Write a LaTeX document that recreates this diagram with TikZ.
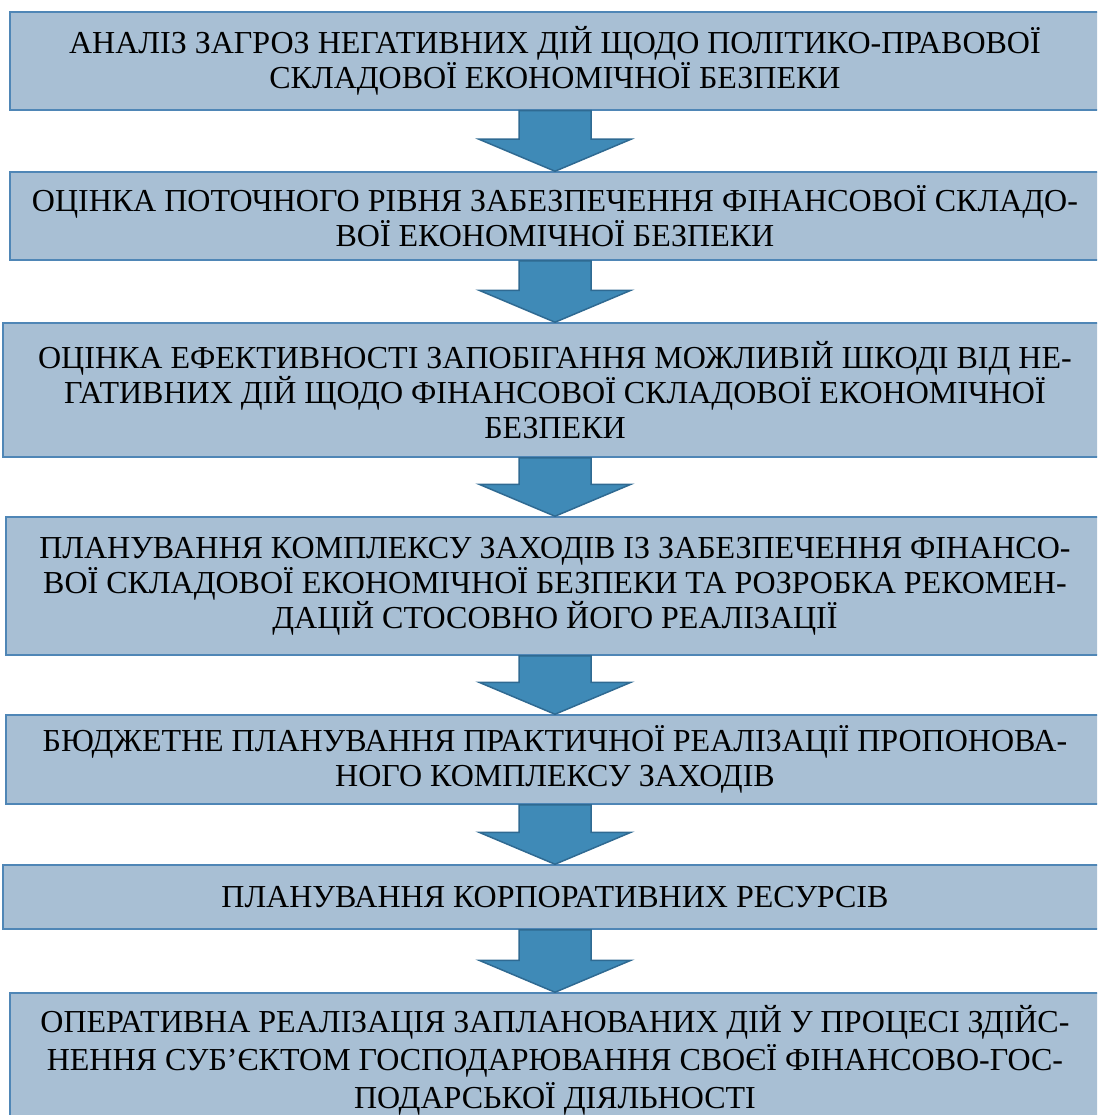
\documentclass[tikz,border=0pt]{standalone}
\usepackage{fontspec}
\setmainfont{Liberation Serif}
\usetikzlibrary{calc}
\definecolor{boxblue}{HTML}{A8BFD4}
\definecolor{boxline}{HTML}{4F86B6}
\definecolor{arrowblue}{HTML}{3F8AB7}
\definecolor{arrowline}{HTML}{2F6A92}

\begin{document}
\begin{tikzpicture}[x=1pt, y=-1pt,
    stage/.style={fill=boxblue, draw=boxline, line width=1.5pt, align=center,
      inner sep=0pt, font=\fontsize{32}{35}\selectfont},
    blockarrow/.style={fill=arrowblue, draw=arrowline, line width=1.5pt, line join=miter}]
        \useasboundingbox (0,0) rectangle (1097,1115);
        \clip (0,0) rectangle (1097,1115);

        % Stages
        \node[stage, minimum width=1090pt, minimum height=98pt] (b1) at (555,61)
          {АНАЛІЗ ЗАГРОЗ НЕГАТИВНИХ ДІЙ ЩОДО ПОЛІТИКО-ПРАВОВОЇ\\СКЛАДОВОЇ ЕКОНОМІЧНОЇ БЕЗПЕКИ};
        \node[stage, minimum width=1090pt, minimum height=88pt] (b2) at (555,216)
          {ОЦІНКА ПОТОЧНОГО РІВНЯ ЗАБЕЗПЕЧЕННЯ ФІНАНСОВОЇ СКЛАДО-\\ВОЇ ЕКОНОМІЧНОЇ БЕЗПЕКИ};
        \node[stage, minimum width=1104pt, minimum height=134pt] (b3) at (555,390)
          {ОЦІНКА ЕФЕКТИВНОСТІ ЗАПОБІГАННЯ МОЖЛИВІЙ ШКОДІ ВІД НЕ-\\ГАТИВНИХ ДІЙ ЩОДО ФІНАНСОВОЇ СКЛАДОВОЇ ЕКОНОМІЧНОЇ\\БЕЗПЕКИ};
        \node[stage, minimum width=1098pt, minimum height=138pt] (b4) at (555,586)
          {ПЛАНУВАННЯ КОМПЛЕКСУ ЗАХОДІВ ІЗ ЗАБЕЗПЕЧЕННЯ ФІНАНСО-\\ВОЇ СКЛАДОВОЇ ЕКОНОМІЧНОЇ БЕЗПЕКИ ТА РОЗРОБКА РЕКОМЕН-\\ДАЦІЙ СТОСОВНО ЙОГО РЕАЛІЗАЦІЇ};
        \node[stage, minimum width=1098pt, minimum height=89pt] (b5) at (555,759.5)
          {БЮДЖЕТНЕ ПЛАНУВАННЯ ПРАКТИЧНОЇ РЕАЛІЗАЦІЇ ПРОПОНОВА-\\НОГО КОМПЛЕКСУ ЗАХОДІВ};
        \node[stage, minimum width=1104pt, minimum height=64pt] (b6) at (555,897)
          {ПЛАНУВАННЯ КОРПОРАТИВНИХ РЕСУРСІВ};
        \node[stage, minimum width=1090pt, minimum height=134pt,
          font=\fontsize{32}{38}\selectfont] (b7) at (555,1060)
          {ОПЕРАТИВНА РЕАЛІЗАЦІЯ ЗАПЛАНОВАНИХ ДІЙ У ПРОЦЕСІ ЗДІЙС-\\НЕННЯ СУБ’ЄКТОМ ГОСПОДАРЮВАННЯ СВОЄЇ ФІНАНСОВО-ГОС-\\ПОДАРСЬКОЇ ДІЯЛЬНОСТІ};

        % Block arrows
        \foreach \a/\b in {b1/b2, b2/b3, b3/b4, b4/b5, b5/b6, b6/b7}
          \draw[blockarrow] let \p1=(\a.south), \p2=(\b.north) in
            (\x1-36pt,\y1) -- (\x1+36pt,\y1) -- (\x1+36pt,\y2+32pt) -- (\x1+76pt,\y2+32pt)
            -- (\x1,\y2) -- (\x1-76pt,\y2+32pt) -- (\x1-36pt,\y2+32pt) -- cycle;

\end{tikzpicture}
\end{document}
